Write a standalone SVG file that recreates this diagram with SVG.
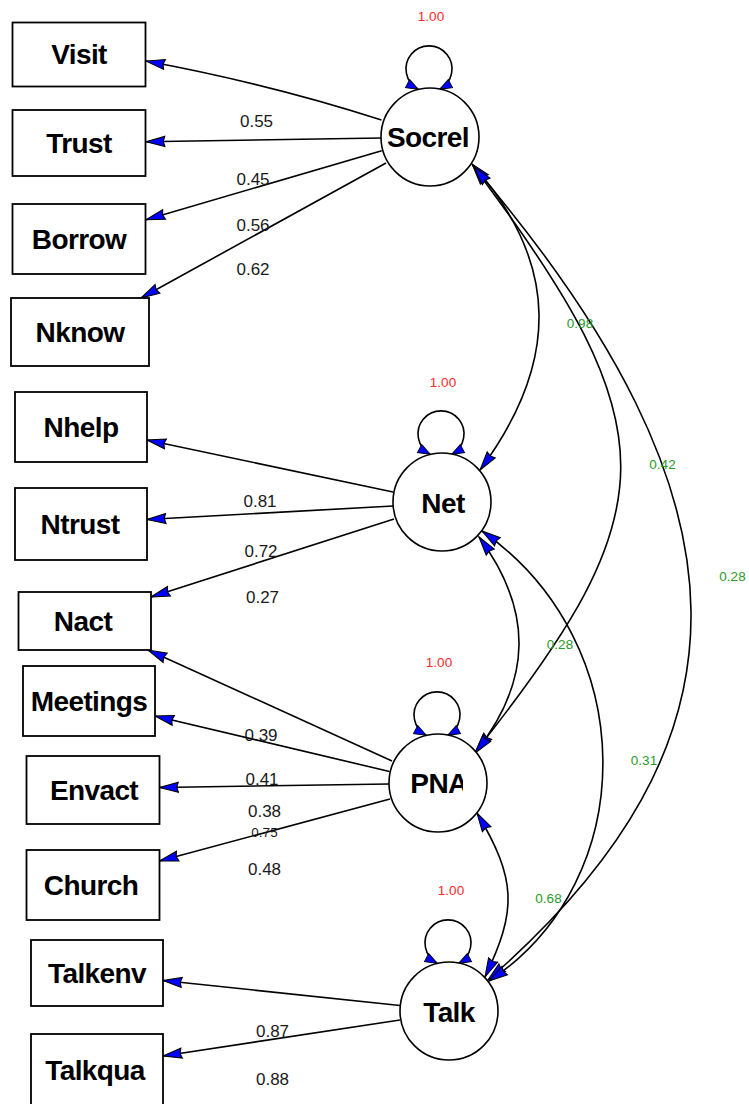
<svg xmlns="http://www.w3.org/2000/svg" width="749" height="1104" viewBox="0 0 749 1104">
  <style>
    .box { fill: #ffffff; stroke: #000000; stroke-width: 1.8; }
    .lat { fill: #ffffff; stroke: #000000; stroke-width: 1.6; }
    .name { font-family: "Liberation Sans", Arial, sans-serif; font-weight: bold; font-size: 28px; letter-spacing: -0.6px; text-anchor: middle; fill: #000000; }
    .edge { fill: none; stroke: #000000; stroke-width: 1.6; }
    .load { marker-end: url(#head); }
    .cov { marker-start: url(#head); marker-end: url(#head); }
    .self { marker-start: url(#small); marker-end: url(#small); }
    .wt { font-family: "Liberation Sans", Arial, sans-serif; font-size: 17px; text-anchor: middle; fill: #1a1a1a; }
    .wt-s { font-family: "Liberation Sans", Arial, sans-serif; font-size: 13.5px; text-anchor: middle; fill: #1a1a1a; }
    .var { font-family: "Liberation Sans", Arial, sans-serif; font-size: 13.5px; text-anchor: middle; fill: #ff2a2a; }
    .cor { font-family: "Liberation Sans", Arial, sans-serif; font-size: 13.5px; text-anchor: middle; fill: #2a9a2a; }
  </style>
  <defs>
    <marker id="head" markerUnits="userSpaceOnUse" markerWidth="22" markerHeight="14" viewBox="-1 -6 21 12" refX="18" refY="0" orient="auto-start-reverse">
      <path d="M18,0 L0,-4.8 L1.5,0 L0,4.8 Z" fill="#0000ff" stroke="#000000" stroke-width="1"/>
    </marker>
    <marker id="small" markerUnits="userSpaceOnUse" markerWidth="16" markerHeight="12" viewBox="-1 -6 15 12" refX="12" refY="0" orient="auto-start-reverse">
      <path d="M12,0 L0,-4.6 L0,4.6 Z" fill="#0000ff" stroke="#000000" stroke-width="0.9"/>
    </marker>
    <clipPath id="pna-clip">
      <rect x="380" y="740" width="83" height="80"/>
    </clipPath>
  </defs>

  <!-- connectors -->
  <g id="connectors">
    <!-- loadings -->
    <path class="edge load" d="M381.5,120 Q270,84 146,61"/>
    <path class="edge load" d="M381,138 L146,141.7"/>
    <path class="edge load" d="M381.7,150.7 L146,219.7"/>
    <path class="edge load" d="M386,163 L141,298"/>
    <path class="edge load" d="M393,492 L147,440"/>
    <path class="edge load" d="M393,506 L147,519.5"/>
    <path class="edge load" d="M394,519 L151,597"/>
    <path class="edge load" d="M392,761 L148,650"/>
    <path class="edge load" d="M389.5,771.5 L155,716"/>
    <path class="edge load" d="M389,784 L159.5,787.5"/>
    <path class="edge load" d="M390,799 L159.5,861"/>
    <path class="edge load" d="M400,1005.5 L163,980.5"/>
    <path class="edge load" d="M400,1020 L163,1056"/>
    <!-- covariances -->
    <path class="edge cov" d="M472,164 C560,263 560,362 480,470"/>
    <path class="edge cov" d="M473,166 C672,430 667,510 476,751"/>
    <path class="edge cov" d="M474,167 C761,504 761,742 488,980"/>
    <path class="edge cov" d="M479,537 C533,610 533,680 475,753"/>
    <path class="edge cov" d="M482,531 C642,643 642,880 489,981"/>
    <path class="edge cov" d="M477,813 C517,880 517,910 485,977"/>
    <!-- variances -->
    <path class="edge self" d="M418.2,89.2 A23,23 0 1 1 439.8,89.2"/>
    <path class="edge self" d="M430.2,454.2 A23,23 0 1 1 451.8,454.2"/>
    <path class="edge self" d="M426.2,735.2 A23,23 0 1 1 447.8,735.2"/>
    <path class="edge self" d="M437.2,963.2 A23,23 0 1 1 458.8,963.2"/>
  </g>

  <!-- edge labels -->
  <g id="labels">
    <text class="var" x="431" y="21">1.00</text>
    <text class="var" x="443" y="387">1.00</text>
    <text class="var" x="439" y="667">1.00</text>
    <text class="var" x="451" y="895">1.00</text>

    <text class="wt" x="256.5" y="127">0.55</text>
    <text class="wt" x="253" y="185">0.45</text>
    <text class="wt" x="253" y="231">0.56</text>
    <text class="wt" x="253" y="275">0.62</text>
    <text class="wt" x="260" y="507">0.81</text>
    <text class="wt" x="261" y="557">0.72</text>
    <text class="wt" x="262.5" y="603">0.27</text>
    <text class="wt" x="261" y="741">0.39</text>
    <text class="wt" x="262" y="785">0.41</text>
    <text class="wt" x="264.5" y="817">0.38</text>
    <text class="wt-s" x="264.5" y="837">0.75</text>
    <text class="wt" x="264.5" y="875">0.48</text>
    <text class="wt" x="272.5" y="1037">0.87</text>
    <text class="wt" x="272.5" y="1085">0.88</text>

    <text class="cor" x="580" y="328">0.98</text>
    <text class="cor" x="662.5" y="469">0.42</text>
    <text class="cor" x="732.5" y="581">0.28</text>
    <text class="cor" x="560" y="649">0.28</text>
    <text class="cor" x="644" y="765">0.31</text>
    <text class="cor" x="548.5" y="903">0.68</text>
  </g>

  <!-- observed indicators -->
  <g id="Visit"><rect class="box" x="12.5" y="22.5" width="133" height="64"/><text class="name" x="79" y="64">Visit</text></g>
  <g id="Trust"><rect class="box" x="12.5" y="110" width="133" height="66"/><text class="name" x="79" y="152.5">Trust</text></g>
  <g id="Borrow"><rect class="box" x="12.5" y="204" width="133" height="70"/><text class="name" x="79" y="248.5">Borrow</text></g>
  <g id="Nknow"><rect class="box" x="11" y="298" width="138" height="68"/><text class="name" x="80" y="341.5">Nknow</text></g>
  <g id="Nhelp"><rect class="box" x="15" y="392" width="132" height="70"/><text class="name" x="81" y="436.5">Nhelp</text></g>
  <g id="Ntrust"><rect class="box" x="15" y="488" width="132" height="72"/><text class="name" x="80" y="533.5">Ntrust</text></g>
  <g id="Nact"><rect class="box" x="18.5" y="592" width="132.5" height="58"/><text class="name" x="83" y="630.5">Nact</text></g>
  <g id="Meetings"><rect class="box" x="23" y="666" width="132" height="70"/><text class="name" x="89" y="710.5">Meetings</text></g>
  <g id="Envact"><rect class="box" x="26.5" y="756" width="133" height="68"/><text class="name" x="94" y="799.5">Envact</text></g>
  <g id="Church"><rect class="box" x="26.5" y="850" width="133" height="70"/><text class="name" x="91" y="894.5">Church</text></g>
  <g id="Talkenv"><rect class="box" x="31" y="940" width="132" height="66"/><text class="name" x="97" y="982.5">Talkenv</text></g>
  <g id="Talkqua"><rect class="box" x="31" y="1034" width="132" height="80"/><text class="name" x="95" y="1080">Talkqua</text></g>

  <!-- latent factors -->
  <g id="Socrel"><circle class="lat" cx="430" cy="137" r="49"/><text class="name" x="428" y="147">Socrel</text></g>
  <g id="Net"><circle class="lat" cx="442" cy="502" r="49"/><text class="name" x="443" y="513">Net</text></g>
  <g id="PNA"><circle class="lat" cx="438" cy="783" r="49"/><text class="name" x="439" y="793" clip-path="url(#pna-clip)">PNA</text></g>
  <g id="Talk"><circle class="lat" cx="449" cy="1011" r="49"/><text class="name" x="449" y="1021.5">Talk</text></g>
</svg>
